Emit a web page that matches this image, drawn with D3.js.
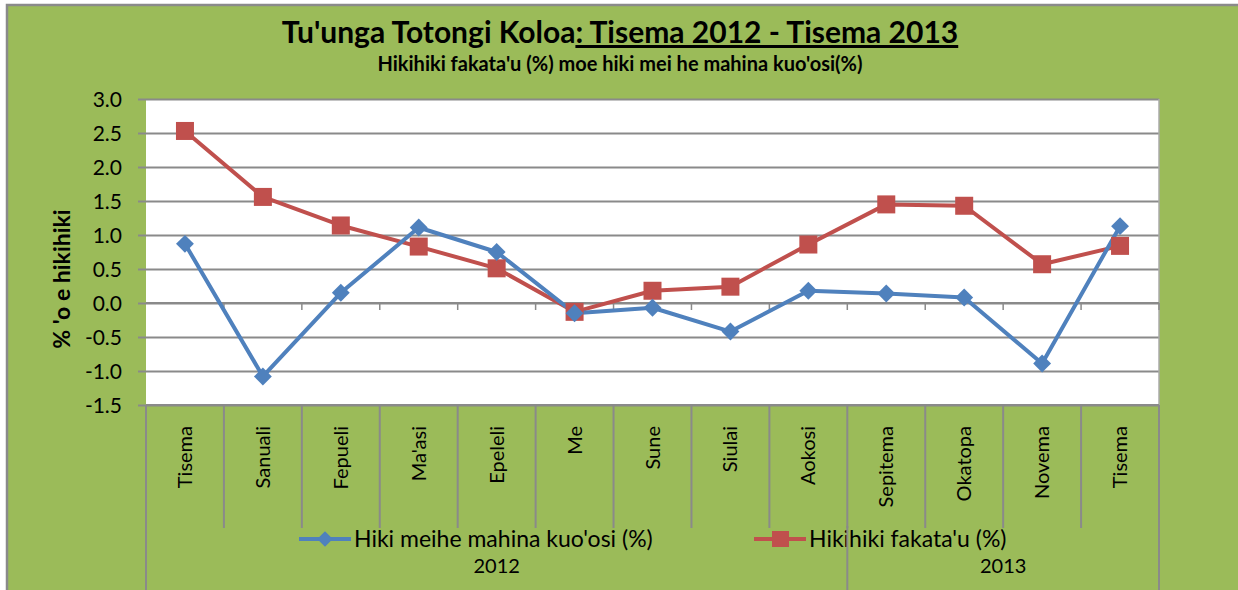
<!DOCTYPE html>
<html>
<head>
<meta charset="utf-8">
<script src="https://cdn.jsdelivr.net/npm/d3@7"></script>
<style>
  body { margin: 0; background: #fff; }
  text { font-family: Lato, "Open Sans", sans-serif; fill: #000; }
</style>
</head>
<body>
<script>
// data
const categories = ["Tisema", "Sanuali", "Fepueli", "Ma'asi", "Epeleli", "Me", "Sune",
  "Siulai", "Aokosi", "Sepitema", "Okatopa", "Novema", "Tisema"];
const monthly = [0.87, -1.08, 0.15, 1.11, 0.75, -0.15, -0.07, -0.42, 0.18, 0.14, 0.08, -0.89, 1.13];
const annual = [2.53, 1.56, 1.14, 0.83, 0.51, -0.13, 0.18, 0.24, 0.86, 1.45, 1.43, 0.57, 0.84];
const yTicks = [-1.5, -1.0, -0.5, 0.0, 0.5, 1.0, 1.5, 2.0, 2.5, 3.0];
const yearGroups = ["2012", "2013"];
const yearCounts = [9, 4];
const seriesNames = ["Hiki meihe mahina kuo'osi (%)", "Hikihiki fakata'u (%)"];

const width = 1238, height = 590;
const green = "#9bbb59", blue = "#4f81bd", red = "#c0504d", grid = "#8a8a8a";
const plotL = 146, plotR = 1159, plotT = 99, plotB = 405;

let svg = d3.select("body").append("svg")
  .attr("width", width)
  .attr("height", height);

// background + outer border
svg.append("rect").attr("x", 7).attr("y", 5).attr("width", width - 7).attr("height", height - 5)
  .attr("fill", green);
svg.append("path").attr("d", "M7," + height + "V5H" + width)
  .attr("fill", "none").attr("stroke", grid).attr("stroke-width", 2.5);

let idx = categories.map((c, i) => i);
let x = d3.scaleBand().domain(idx).range([plotL, plotR]).padding(0);
let y = d3.scaleLinear().domain([-1.5, 3]).range([plotB, plotT]);

// plot area
svg.append("rect").attr("x", plotL).attr("y", plotT).attr("width", plotR - plotL).attr("height", plotB - plotT)
  .attr("fill", "#fff");

// gridlines
let gGrid = svg.append("g").attr("transform", "translate(" + plotL + ",0)")
  .call(d3.axisLeft(y).tickValues(yTicks).tickSize(-(plotR - plotL)).tickFormat(""));
gGrid.select(".domain").remove();
gGrid.selectAll("line").attr("stroke", grid).attr("stroke-width", 2);

// right border
svg.append("line").attr("x1", plotR).attr("x2", plotR).attr("y1", plotT).attr("y2", plotB)
  .attr("stroke", "#aaa").attr("stroke-width", 1.5);

// y axis (hyphen minus like the original)
let fmt = d => d3.format(".1f")(d).replace("−", "-");
let gy = svg.append("g").attr("transform", "translate(" + plotL + ",0)")
  .call(d3.axisLeft(y).tickValues(yTicks).tickSize(8).tickPadding(16).tickFormat(fmt));
gy.select(".domain").remove();
gy.selectAll("line").attr("stroke", grid).attr("stroke-width", 2);
gy.selectAll("text").style("font-size", "21px").attr("fill", "#000").attr("dy", "0.36em");

svg.append("text")
  .attr("transform", "translate(70," + ((plotT + plotB) / 2 + 27) + ") rotate(-90)")
  .attr("text-anchor", "middle")
  .style("font-size", "23px").style("font-weight", "bold")
  .text("% 'o e hikihiki");

// x axis at zero with small ticks at category boundaries
let bounds = idx.map(i => x(i)).concat([plotR]);
svg.append("line").attr("x1", plotL).attr("x2", plotR).attr("y1", y(0)).attr("y2", y(0))
  .attr("stroke", grid).attr("stroke-width", 2);
svg.append("g").selectAll("line.zt").data(bounds.slice(1)).enter().append("line")
  .attr("x1", d => d).attr("x2", d => d).attr("y1", y(0)).attr("y2", y(0) + 7)
  .attr("stroke", grid).attr("stroke-width", 1.5);

// bottom axis lines, category boundaries
svg.append("line").attr("x1", plotL).attr("x2", plotR).attr("y1", plotB).attr("y2", plotB)
  .attr("stroke", grid).attr("stroke-width", 2);
svg.append("g").selectAll("line.cb").data(bounds).enter().append("line")
  .attr("x1", d => d).attr("x2", d => d).attr("y1", plotB).attr("y2", 528)
  .attr("stroke", grid).attr("stroke-width", 2);

// year group lines
let groupEdges = [0];
yearCounts.forEach((n, i) => groupEdges.push(groupEdges[i] + n));
let edgeX = groupEdges.map(k => k < categories.length ? x(k) : plotR);

svg.append("g").selectAll("text.cat").data(categories).enter().append("text")
  .attr("transform", (d, i) => "translate(" + (x(i) + x.bandwidth() / 2 + 7) + ",426) rotate(-90)")
  .attr("text-anchor", "end")
  .style("font-size", "20px")
  .text(d => d);

svg.append("g").selectAll("text.yr").data(yearGroups).enter().append("text")
  .attr("x", (d, i) => (edgeX[i] + edgeX[i + 1]) / 2)
  .attr("y", 573)
  .attr("text-anchor", "middle")
  .style("font-size", "20px")
  .text(d => d);

// lines
let line = d3.line().x((d, i) => x(i) + x.bandwidth() / 2).y(d => y(d));

svg.append("path").attr("d", line(annual)).attr("fill", "none")
  .attr("stroke", red).attr("stroke-width", 4).attr("stroke-linejoin", "round");
svg.append("path").attr("d", line(monthly)).attr("fill", "none")
  .attr("stroke", blue).attr("stroke-width", 4).attr("stroke-linejoin", "round");

let diamond = d3.symbol().type(d3.symbolSquare).size(160);

svg.append("g").selectAll("rect.sq").data(annual).enter().append("rect")
  .attr("x", (d, i) => x(i) + x.bandwidth() / 2 - 9)
  .attr("y", d => y(d) - 9)
  .attr("width", 18).attr("height", 18)
  .attr("fill", red);

svg.append("g").selectAll("path.dm").data(monthly).enter().append("path")
  .attr("d", diamond)
  .attr("transform", (d, i) => "translate(" + (x(i) + x.bandwidth() / 2) + "," + y(d) + ") rotate(45)")
  .attr("fill", blue);

// legend
let legend = [
  {name: seriesNames[0], color: blue, x0: 299},
  {name: seriesNames[1], color: red, x0: 754}
];
let lg = svg.append("g").selectAll("g").data(legend).enter().append("g")
  .attr("transform", d => "translate(" + d.x0 + ",539)");
lg.append("line").attr("x1", 0).attr("x2", 52).attr("y1", 0).attr("y2", 0)
  .attr("stroke", d => d.color).attr("stroke-width", 4);
lg.each(function(d, i) {
  let g = d3.select(this);
  if (i === 0) {
    g.append("path").attr("d", d3.symbol().type(d3.symbolSquare).size(120))
      .attr("transform", "translate(26,0) rotate(45)").attr("fill", d.color);
  } else {
    g.append("rect").attr("x", 18).attr("y", -8).attr("width", 17).attr("height", 16).attr("fill", d.color);
  }
});
lg.append("text").attr("x", 55).attr("y", 8).style("font-size", "23px").text(d => d.name);

// year group lines drawn over the legend, like the original
svg.append("g").selectAll("line.yg").data(edgeX).enter().append("line")
  .attr("x1", d => d).attr("x2", d => d).attr("y1", 526).attr("y2", height)
  .attr("stroke", grid).attr("stroke-width", 2);

// titles
let title = svg.append("text").attr("x", 620).attr("y", 43).attr("text-anchor", "middle")
  .style("font-size", "30px").style("font-weight", "bold");
title.append("tspan").text("Tu'unga Totongi Koloa");
title.append("tspan").style("text-decoration", "underline")
  .text(": Tisema 2012 - Tisema 2013");

svg.append("text").attr("x", 620).attr("y", 71).attr("text-anchor", "middle")
  .style("font-size", "20px").style("font-weight", "bold")
  .text("Hikihiki fakata'u (%) moe hiki mei he mahina kuo'osi(%)");
</script>
</body>
</html>
